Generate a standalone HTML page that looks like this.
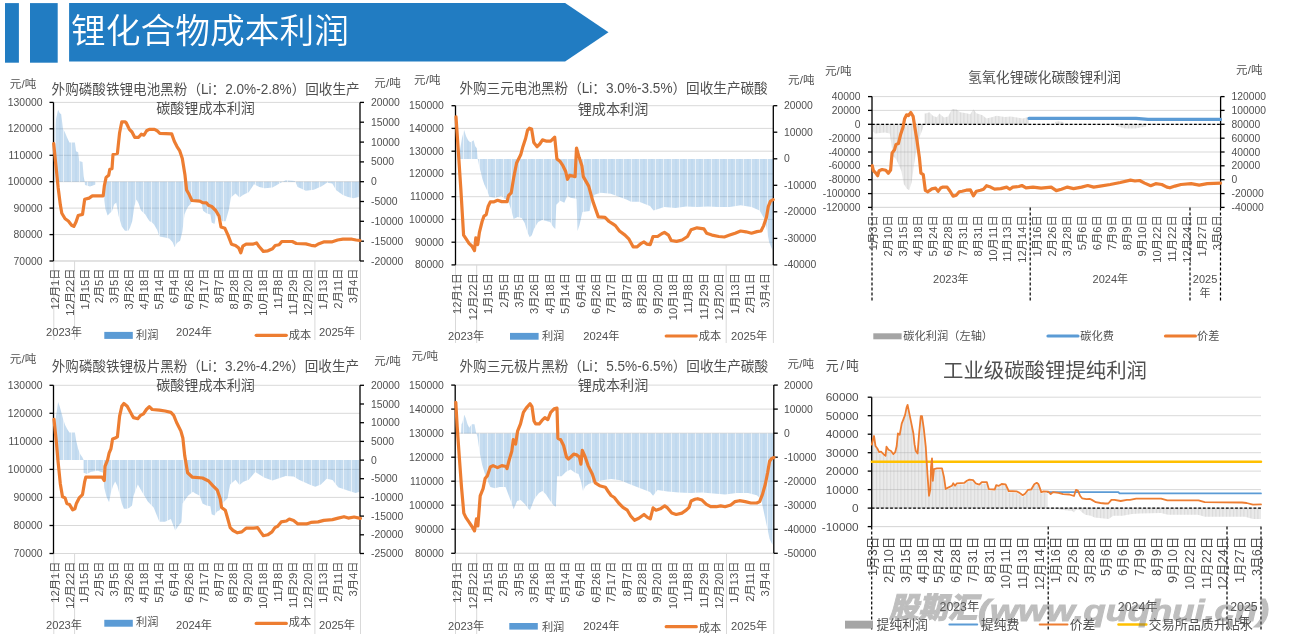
<!DOCTYPE html><html><head><meta charset="utf-8"><title>锂化合物成本利润</title>
<style>html,body{margin:0;padding:0;background:#fff;}body{width:1289px;height:643px;overflow:hidden;}svg{display:block;font-family:"Liberation Sans","Noto Sans CJK SC",sans-serif;}</style>
</head><body>
<svg width="1289" height="643" viewBox="0 0 1289 643">
<defs>
<pattern id="bluebars" patternUnits="userSpaceOnUse" width="8" height="10"><rect width="8" height="10" fill="#5B9BD5" fill-opacity="0.34"/><rect x="3" width="2" height="10" fill="#5B9BD5" fill-opacity="0.06"/><rect x="7" width="1" height="10" fill="#FFFFFF" fill-opacity="0.6"/></pattern>
<pattern id="graybars" patternUnits="userSpaceOnUse" width="3.5" height="10"><rect width="3.5" height="10" fill="#A5A5A5" fill-opacity="0.24"/><rect x="1" width="1" height="10" fill="#A5A5A5" fill-opacity="0.3"/></pattern>
</defs>
<rect x="5" y="3.1" width="13.9" height="59.6" fill="#217CC2"/>
<rect x="30" y="3.1" width="27.7" height="59.6" fill="#217CC2"/>
<polygon points="69.1,3.1 565.1,3.1 608.5,32.2 565.1,61.4 69.1,61.4" fill="#217CC2"/>
<text x="71" y="31" font-size="34.5" text-anchor="start" fill="#FFFFFF" dominant-baseline="central" textLength="278" lengthAdjust="spacingAndGlyphs" font-weight="350">锂化合物成本利润</text>
<line x1="53.5" y1="102.4" x2="360" y2="102.4" stroke="#D9D9D9" stroke-width="1"/>
<line x1="53.5" y1="128.8" x2="360" y2="128.8" stroke="#D9D9D9" stroke-width="1"/>
<line x1="53.5" y1="155.3" x2="360" y2="155.3" stroke="#D9D9D9" stroke-width="1"/>
<line x1="53.5" y1="181.7" x2="360" y2="181.7" stroke="#D9D9D9" stroke-width="1"/>
<line x1="53.5" y1="208.1" x2="360" y2="208.1" stroke="#D9D9D9" stroke-width="1"/>
<line x1="53.5" y1="234.6" x2="360" y2="234.6" stroke="#D9D9D9" stroke-width="1"/>
<line x1="53.5" y1="261" x2="360" y2="261" stroke="#D9D9D9" stroke-width="1"/>
<polygon points="54.5,181.7 54.5,181.7 54.5,130 55.9,119.6 58.1,109.8 59.6,113.1 61.2,114.2 62.9,128.3 65.1,132.7 67.3,138.1 69.4,142.5 74.9,142.5 76,151.2 78.2,152.3 79.2,161 82.5,162.1 83.6,176.3 84.7,181.7 85,185 90,186.5 95.6,184.5 96,181.7 104.2,181.7 104.3,200 105.4,209 107.6,215.5 109.8,213.3 112,211.2 114.1,204.6 116.3,202.5 118.5,215.5 121.8,226.4 125,230.8 128.3,230.8 130,227.7 132.2,221.2 134.4,205.9 136.5,199.4 138.7,203.7 140.9,210.3 143.1,212.5 145.3,214.6 147.4,217.9 149.6,221.2 151.8,222.3 154,224.4 157.2,229.9 159.4,236.4 164.9,237.5 169.2,238.6 172.5,241.9 174.7,247.3 176.9,243 180.1,240.8 182.3,232.1 184.5,214.6 186,210.7 188,206.7 190.6,204 193.2,200.1 201.1,201.4 203.1,210.7 206.4,213.3 210.4,214.6 211.7,222.6 214.4,223.9 217,214.6 219.6,217.3 222.3,221.3 225.6,221.3 228.9,209.4 230.9,197.5 235.5,193.5 239.5,197.5 243.4,194.8 248.7,192.2 254,184.3 259.3,186.9 264.6,188.2 272.5,187.6 280.4,182.9 285.7,180.3 295,181 297.6,186.9 300.5,188.2 305.8,190.8 313.8,189.7 321.7,186.3 327,182.8 332.3,183.6 336.2,190.2 342.9,195 348.1,196.9 353.4,198.2 358.7,196.9 359.5,181.7 359.5,181.7" fill="url(#bluebars)"/>
<line x1="53.5" y1="261" x2="360" y2="261" stroke="#D9D9D9" stroke-width="1"/>
<line x1="53.8" y1="261" x2="53.8" y2="340" stroke="#D9D9D9" stroke-width="1"/>
<line x1="74.6" y1="261" x2="74.6" y2="340" stroke="#D9D9D9" stroke-width="1"/>
<line x1="314.9" y1="261" x2="314.9" y2="340" stroke="#D9D9D9" stroke-width="1"/>
<line x1="360.5" y1="261" x2="360.5" y2="340" stroke="#D9D9D9" stroke-width="1"/>
<line x1="53.5" y1="102.4" x2="53.5" y2="261" stroke="#000" stroke-width="1.3"/>
<line x1="49.5" y1="102.4" x2="53.5" y2="102.4" stroke="#000" stroke-width="1.3"/>
<line x1="49.5" y1="128.8" x2="53.5" y2="128.8" stroke="#000" stroke-width="1.3"/>
<line x1="49.5" y1="155.3" x2="53.5" y2="155.3" stroke="#000" stroke-width="1.3"/>
<line x1="49.5" y1="181.7" x2="53.5" y2="181.7" stroke="#000" stroke-width="1.3"/>
<line x1="49.5" y1="208.1" x2="53.5" y2="208.1" stroke="#000" stroke-width="1.3"/>
<line x1="49.5" y1="234.6" x2="53.5" y2="234.6" stroke="#000" stroke-width="1.3"/>
<line x1="49.5" y1="261" x2="53.5" y2="261" stroke="#000" stroke-width="1.3"/>
<line x1="360" y1="102.4" x2="360" y2="261" stroke="#000" stroke-width="1.3"/>
<line x1="360" y1="102.4" x2="364" y2="102.4" stroke="#000" stroke-width="1.3"/>
<line x1="360" y1="122.2" x2="364" y2="122.2" stroke="#000" stroke-width="1.3"/>
<line x1="360" y1="142.1" x2="364" y2="142.1" stroke="#000" stroke-width="1.3"/>
<line x1="360" y1="161.9" x2="364" y2="161.9" stroke="#000" stroke-width="1.3"/>
<line x1="360" y1="181.7" x2="364" y2="181.7" stroke="#000" stroke-width="1.3"/>
<line x1="360" y1="201.5" x2="364" y2="201.5" stroke="#000" stroke-width="1.3"/>
<line x1="360" y1="221.3" x2="364" y2="221.3" stroke="#000" stroke-width="1.3"/>
<line x1="360" y1="241.2" x2="364" y2="241.2" stroke="#000" stroke-width="1.3"/>
<line x1="360" y1="261" x2="364" y2="261" stroke="#000" stroke-width="1.3"/>
<polyline points="53.7,143.6 55.9,165.4 58.1,187.2 60.3,204.6 61.8,213.3 65.1,218.8 68.3,221 71.6,225.3 73.8,226.4 76,222.1 78.2,215.5 82.5,214.4 84.7,199.2 89.1,198.1 92.3,195.9 103.2,195.9 104.3,186.1 106.1,177.4 108.7,175.2 109.8,169.3 112,168.7 113,154.5 117.4,153.4 119.6,132.7 121.8,121.8 125,121.8 126.2,122.8 129.4,129.4 132,132 134.7,137.3 138.6,137.3 141.3,134.2 143.9,135.2 146.6,130.7 149.2,129.4 154.5,129.4 157.1,130.7 159.8,133.4 171.7,133.9 174.3,141.3 177,146.6 179.6,150.6 182.3,158.5 184.9,174.4 186.6,190 189.3,194.8 191.9,200.5 199.8,201.2 202.5,202.6 206.4,202.8 208.4,205.2 211.7,206.5 215.7,210.5 219,216 221,227 224.9,228.3 228.2,235.6 231.5,244.2 235.5,245.5 238.8,248.1 240.8,252.8 242.8,246.2 246.1,244.2 252.7,244.2 256.6,242.9 259.3,246.8 263.3,251.4 267.9,250.8 272.5,248.8 275.2,245.5 279.1,244.8 281.8,241.5 292.3,241.5 296.3,243.5 305.8,243.9 311.1,245.3 315.1,245.8 319,243.7 324.3,241.8 332.3,241.8 337.6,240 342.9,239.2 352.1,239.2 356.1,240 360,240.5" fill="none" stroke="#ED7D31" stroke-width="3.2" stroke-linejoin="round" stroke-linecap="round"/>
<text x="42.5" y="102.4" font-size="10.4" text-anchor="end" fill="#505050" dominant-baseline="central">130000</text>
<text x="42.5" y="128.8" font-size="10.4" text-anchor="end" fill="#505050" dominant-baseline="central">120000</text>
<text x="42.5" y="155.3" font-size="10.4" text-anchor="end" fill="#505050" dominant-baseline="central">110000</text>
<text x="42.5" y="181.7" font-size="10.4" text-anchor="end" fill="#505050" dominant-baseline="central">100000</text>
<text x="42.5" y="208.1" font-size="10.4" text-anchor="end" fill="#505050" dominant-baseline="central">90000</text>
<text x="42.5" y="234.6" font-size="10.4" text-anchor="end" fill="#505050" dominant-baseline="central">80000</text>
<text x="42.5" y="261" font-size="10.4" text-anchor="end" fill="#505050" dominant-baseline="central">70000</text>
<text x="371" y="102.4" font-size="10.4" text-anchor="start" fill="#505050" dominant-baseline="central">20000</text>
<text x="371" y="122.2" font-size="10.4" text-anchor="start" fill="#505050" dominant-baseline="central">15000</text>
<text x="371" y="142.1" font-size="10.4" text-anchor="start" fill="#505050" dominant-baseline="central">10000</text>
<text x="371" y="161.9" font-size="10.4" text-anchor="start" fill="#505050" dominant-baseline="central">5000</text>
<text x="371" y="181.7" font-size="10.4" text-anchor="start" fill="#505050" dominant-baseline="central">0</text>
<text x="371" y="201.5" font-size="10.4" text-anchor="start" fill="#505050" dominant-baseline="central">-5000</text>
<text x="371" y="221.3" font-size="10.4" text-anchor="start" fill="#505050" dominant-baseline="central">-10000</text>
<text x="371" y="241.2" font-size="10.4" text-anchor="start" fill="#505050" dominant-baseline="central">-15000</text>
<text x="371" y="261" font-size="10.4" text-anchor="start" fill="#505050" dominant-baseline="central">-20000</text>
<text x="54.7" y="268.5" font-size="11.2" text-anchor="end" fill="#505050" dominant-baseline="central" transform="rotate(-90 54.7 268.5)">12月1日</text>
<text x="69.6" y="268.5" font-size="11.2" text-anchor="end" fill="#505050" dominant-baseline="central" transform="rotate(-90 69.6 268.5)">12月22日</text>
<text x="84.5" y="268.5" font-size="11.2" text-anchor="end" fill="#505050" dominant-baseline="central" transform="rotate(-90 84.5 268.5)">1月15日</text>
<text x="99.4" y="268.5" font-size="11.2" text-anchor="end" fill="#505050" dominant-baseline="central" transform="rotate(-90 99.4 268.5)">2月5日</text>
<text x="114.3" y="268.5" font-size="11.2" text-anchor="end" fill="#505050" dominant-baseline="central" transform="rotate(-90 114.3 268.5)">3月5日</text>
<text x="129.2" y="268.5" font-size="11.2" text-anchor="end" fill="#505050" dominant-baseline="central" transform="rotate(-90 129.2 268.5)">3月26日</text>
<text x="144.1" y="268.5" font-size="11.2" text-anchor="end" fill="#505050" dominant-baseline="central" transform="rotate(-90 144.1 268.5)">4月18日</text>
<text x="159" y="268.5" font-size="11.2" text-anchor="end" fill="#505050" dominant-baseline="central" transform="rotate(-90 159 268.5)">5月14日</text>
<text x="173.9" y="268.5" font-size="11.2" text-anchor="end" fill="#505050" dominant-baseline="central" transform="rotate(-90 173.9 268.5)">6月4日</text>
<text x="188.8" y="268.5" font-size="11.2" text-anchor="end" fill="#505050" dominant-baseline="central" transform="rotate(-90 188.8 268.5)">6月26日</text>
<text x="203.7" y="268.5" font-size="11.2" text-anchor="end" fill="#505050" dominant-baseline="central" transform="rotate(-90 203.7 268.5)">7月17日</text>
<text x="218.6" y="268.5" font-size="11.2" text-anchor="end" fill="#505050" dominant-baseline="central" transform="rotate(-90 218.6 268.5)">8月7日</text>
<text x="233.5" y="268.5" font-size="11.2" text-anchor="end" fill="#505050" dominant-baseline="central" transform="rotate(-90 233.5 268.5)">8月28日</text>
<text x="248.4" y="268.5" font-size="11.2" text-anchor="end" fill="#505050" dominant-baseline="central" transform="rotate(-90 248.4 268.5)">9月20日</text>
<text x="263.3" y="268.5" font-size="11.2" text-anchor="end" fill="#505050" dominant-baseline="central" transform="rotate(-90 263.3 268.5)">10月18日</text>
<text x="278.2" y="268.5" font-size="11.2" text-anchor="end" fill="#505050" dominant-baseline="central" transform="rotate(-90 278.2 268.5)">11月8日</text>
<text x="293.1" y="268.5" font-size="11.2" text-anchor="end" fill="#505050" dominant-baseline="central" transform="rotate(-90 293.1 268.5)">11月29日</text>
<text x="308" y="268.5" font-size="11.2" text-anchor="end" fill="#505050" dominant-baseline="central" transform="rotate(-90 308 268.5)">12月20日</text>
<text x="322.9" y="268.5" font-size="11.2" text-anchor="end" fill="#505050" dominant-baseline="central" transform="rotate(-90 322.9 268.5)">1月13日</text>
<text x="337.8" y="268.5" font-size="11.2" text-anchor="end" fill="#505050" dominant-baseline="central" transform="rotate(-90 337.8 268.5)">2月11日</text>
<text x="352.7" y="268.5" font-size="11.2" text-anchor="end" fill="#505050" dominant-baseline="central" transform="rotate(-90 352.7 268.5)">3月4日</text>
<text x="51.6" y="89.1" font-size="14.1" text-anchor="start" fill="#505050" dominant-baseline="central" textLength="308" lengthAdjust="spacingAndGlyphs">外购磷酸铁锂电池黑粉（Li：2.0%-2.8%）回收生产</text>
<text x="205.5" y="108.2" font-size="14.1" text-anchor="middle" fill="#505050" dominant-baseline="central">碳酸锂成本利润</text>
<text x="9.8" y="83.7" font-size="11.5" text-anchor="start" fill="#505050" dominant-baseline="central" textLength="26.5" lengthAdjust="spacing">元/吨</text>
<text x="374.3" y="83.3" font-size="11.5" text-anchor="start" fill="#505050" dominant-baseline="central" textLength="26.5" lengthAdjust="spacing">元/吨</text>
<text x="64" y="332.4" font-size="11.2" text-anchor="middle" fill="#505050" dominant-baseline="central">2023年</text>
<text x="194" y="332.4" font-size="11.2" text-anchor="middle" fill="#505050" dominant-baseline="central">2024年</text>
<text x="337" y="332.4" font-size="11.2" text-anchor="middle" fill="#505050" dominant-baseline="central">2025年</text>
<text x="136" y="334.8" font-size="11.2" text-anchor="start" fill="#505050" dominant-baseline="central">利润</text>
<text x="288.8" y="335" font-size="11.2" text-anchor="start" fill="#505050" dominant-baseline="central">成本</text>
<rect x="104.3" y="331.9" width="28.5" height="7" fill="#5B9BD5"/>
<line x1="256.2" y1="335.3" x2="286.3" y2="335.3" stroke="#ED7D31" stroke-width="3.2" stroke-linecap="round"/>
<line x1="455.5" y1="105.7" x2="773.3" y2="105.7" stroke="#D9D9D9" stroke-width="1"/>
<line x1="455.5" y1="128.4" x2="773.3" y2="128.4" stroke="#D9D9D9" stroke-width="1"/>
<line x1="455.5" y1="151.2" x2="773.3" y2="151.2" stroke="#D9D9D9" stroke-width="1"/>
<line x1="455.5" y1="173.9" x2="773.3" y2="173.9" stroke="#D9D9D9" stroke-width="1"/>
<line x1="455.5" y1="196.7" x2="773.3" y2="196.7" stroke="#D9D9D9" stroke-width="1"/>
<line x1="455.5" y1="219.4" x2="773.3" y2="219.4" stroke="#D9D9D9" stroke-width="1"/>
<line x1="455.5" y1="242.2" x2="773.3" y2="242.2" stroke="#D9D9D9" stroke-width="1"/>
<line x1="455.5" y1="264.9" x2="773.3" y2="264.9" stroke="#D9D9D9" stroke-width="1"/>
<polygon points="459.5,158.9 459.5,158.9 460,150.3 462,138 464.1,130.1 466.1,136.2 468.1,140.2 470.2,142.2 472.2,141.2 473.6,140.2 475.2,146.3 476.8,148.3 477.6,158.9 478.2,160.4 479.2,166.5 480.9,172.5 482.3,178.6 484.3,184.6 487.3,190.7 489.3,196.8 495.4,197.8 501.5,195.8 504.5,198.8 507.5,199.8 509.5,204.8 511.6,210.9 513.6,219 517.6,217 521.7,218 524.7,223 527.7,233.1 529.7,237.2 531.8,235.2 534,229.1 538.1,222 542.1,220 546.2,221 550.2,222 553.2,227.1 555.3,229.1 556.3,204.8 560.3,200.8 564.3,202.8 567.4,195.8 570.4,197.8 576.5,198.8 577.5,231.1 579.5,225.1 582.5,211.9 589.6,210.9 591.6,200.8 594.6,194.7 600.7,192.7 610.8,193.7 618.9,196.8 627,199.8 631,201.8 639.1,201.8 650,205.9 653.5,210.6 664.4,207.1 675.3,207.9 686.2,206.5 697,207.1 707.9,206.5 718.8,207.1 729.7,207.1 740.6,205.2 751.5,207.1 759.6,210.6 765.1,220.1 769.1,241.9 772.4,250 773,158.9 773,158.9" fill="url(#bluebars)"/>
<line x1="455.5" y1="264.9" x2="773.3" y2="264.9" stroke="#D9D9D9" stroke-width="1"/>
<line x1="455.5" y1="264.9" x2="455.5" y2="343" stroke="#D9D9D9" stroke-width="1"/>
<line x1="476.7" y1="264.9" x2="476.7" y2="343" stroke="#D9D9D9" stroke-width="1"/>
<line x1="726.2" y1="264.9" x2="726.2" y2="343" stroke="#D9D9D9" stroke-width="1"/>
<line x1="773.4" y1="264.9" x2="773.4" y2="343" stroke="#D9D9D9" stroke-width="1"/>
<line x1="455.5" y1="105.7" x2="455.5" y2="264.9" stroke="#000" stroke-width="1.3"/>
<line x1="451.5" y1="105.7" x2="455.5" y2="105.7" stroke="#000" stroke-width="1.3"/>
<line x1="451.5" y1="128.4" x2="455.5" y2="128.4" stroke="#000" stroke-width="1.3"/>
<line x1="451.5" y1="151.2" x2="455.5" y2="151.2" stroke="#000" stroke-width="1.3"/>
<line x1="451.5" y1="173.9" x2="455.5" y2="173.9" stroke="#000" stroke-width="1.3"/>
<line x1="451.5" y1="196.7" x2="455.5" y2="196.7" stroke="#000" stroke-width="1.3"/>
<line x1="451.5" y1="219.4" x2="455.5" y2="219.4" stroke="#000" stroke-width="1.3"/>
<line x1="451.5" y1="242.2" x2="455.5" y2="242.2" stroke="#000" stroke-width="1.3"/>
<line x1="451.5" y1="264.9" x2="455.5" y2="264.9" stroke="#000" stroke-width="1.3"/>
<line x1="773.3" y1="105.7" x2="773.3" y2="264.9" stroke="#000" stroke-width="1.3"/>
<line x1="773.3" y1="105.7" x2="777.3" y2="105.7" stroke="#000" stroke-width="1.3"/>
<line x1="773.3" y1="132.2" x2="777.3" y2="132.2" stroke="#000" stroke-width="1.3"/>
<line x1="773.3" y1="158.8" x2="777.3" y2="158.8" stroke="#000" stroke-width="1.3"/>
<line x1="773.3" y1="185.3" x2="777.3" y2="185.3" stroke="#000" stroke-width="1.3"/>
<line x1="773.3" y1="211.8" x2="777.3" y2="211.8" stroke="#000" stroke-width="1.3"/>
<line x1="773.3" y1="238.4" x2="777.3" y2="238.4" stroke="#000" stroke-width="1.3"/>
<line x1="773.3" y1="264.9" x2="777.3" y2="264.9" stroke="#000" stroke-width="1.3"/>
<polyline points="456,116.8 458.2,149.4 460.9,190.2 463.6,235.1 466.3,239.2 469,243.3 471.8,246 474.5,250.6 475.8,237.8 477.7,244.6 479.4,232.4 482.1,221.5 484,216.1 486.2,214.7 488.1,206.5 490.3,201.9 493.5,201.9 497.6,200.3 501.7,201.6 507.1,201.6 508.5,195.7 511.2,192.9 513.9,176.6 516.6,163 520.7,154.8 522.9,146.7 525.6,138.5 527.5,130.4 529.4,128.2 531.6,129 533.8,142.6 537.1,146.7 539.8,144 542.5,139.9 546.6,141.2 550.7,141.2 554.7,137.2 556.9,158.9 560.2,161.6 562.9,165.7 565.6,171.2 567.5,179.3 569.7,175.3 575.1,176.6 576.5,148 579.2,157.6 581.9,165.7 583.3,176.6 588.7,186.1 592.8,201.1 598.3,216.9 605,217.4 609.1,221.5 613.2,224.2 615.4,225.6 619.5,231 625,235.1 629,239.2 633.1,246.8 637.2,246.8 641.3,243.3 644,241.9 646.7,244.1 650.3,244.6 653,236.5 657.6,236.5 661.7,233.7 664.4,232.4 668.5,235.1 671.2,240.5 676.6,241.4 682.1,240 687.5,236.5 691.1,229.7 697,227.8 703.9,228.8 706.6,233.2 712,235.1 718.8,236.5 724.3,237 729.7,235.1 735.1,233.2 740.6,231 746,231.8 751.5,233.2 756.9,231.6 761,231 763.7,225.6 766.4,217.4 768.3,206.5 770.5,201.1 773.2,199.7" fill="none" stroke="#ED7D31" stroke-width="3.2" stroke-linejoin="round" stroke-linecap="round"/>
<text x="443.8" y="105.7" font-size="10.4" text-anchor="end" fill="#505050" dominant-baseline="central">150000</text>
<text x="443.8" y="128.4" font-size="10.4" text-anchor="end" fill="#505050" dominant-baseline="central">140000</text>
<text x="443.8" y="151.2" font-size="10.4" text-anchor="end" fill="#505050" dominant-baseline="central">130000</text>
<text x="443.8" y="173.9" font-size="10.4" text-anchor="end" fill="#505050" dominant-baseline="central">120000</text>
<text x="443.8" y="196.7" font-size="10.4" text-anchor="end" fill="#505050" dominant-baseline="central">110000</text>
<text x="443.8" y="219.4" font-size="10.4" text-anchor="end" fill="#505050" dominant-baseline="central">100000</text>
<text x="443.8" y="242.2" font-size="10.4" text-anchor="end" fill="#505050" dominant-baseline="central">90000</text>
<text x="443.8" y="264.9" font-size="10.4" text-anchor="end" fill="#505050" dominant-baseline="central">80000</text>
<text x="784" y="105.7" font-size="10.4" text-anchor="start" fill="#505050" dominant-baseline="central">20000</text>
<text x="784" y="132.2" font-size="10.4" text-anchor="start" fill="#505050" dominant-baseline="central">10000</text>
<text x="784" y="158.8" font-size="10.4" text-anchor="start" fill="#505050" dominant-baseline="central">0</text>
<text x="784" y="185.3" font-size="10.4" text-anchor="start" fill="#505050" dominant-baseline="central">-10000</text>
<text x="784" y="211.8" font-size="10.4" text-anchor="start" fill="#505050" dominant-baseline="central">-20000</text>
<text x="784" y="238.4" font-size="10.4" text-anchor="start" fill="#505050" dominant-baseline="central">-30000</text>
<text x="784" y="264.9" font-size="10.4" text-anchor="start" fill="#505050" dominant-baseline="central">-40000</text>
<text x="457.3" y="273" font-size="11.2" text-anchor="end" fill="#505050" dominant-baseline="central" transform="rotate(-90 457.3 273)">12月1日</text>
<text x="472.7" y="273" font-size="11.2" text-anchor="end" fill="#505050" dominant-baseline="central" transform="rotate(-90 472.7 273)">12月22日</text>
<text x="488.1" y="273" font-size="11.2" text-anchor="end" fill="#505050" dominant-baseline="central" transform="rotate(-90 488.1 273)">1月15日</text>
<text x="503.5" y="273" font-size="11.2" text-anchor="end" fill="#505050" dominant-baseline="central" transform="rotate(-90 503.5 273)">2月5日</text>
<text x="518.9" y="273" font-size="11.2" text-anchor="end" fill="#505050" dominant-baseline="central" transform="rotate(-90 518.9 273)">3月5日</text>
<text x="534.3" y="273" font-size="11.2" text-anchor="end" fill="#505050" dominant-baseline="central" transform="rotate(-90 534.3 273)">3月26日</text>
<text x="549.7" y="273" font-size="11.2" text-anchor="end" fill="#505050" dominant-baseline="central" transform="rotate(-90 549.7 273)">4月18日</text>
<text x="565.1" y="273" font-size="11.2" text-anchor="end" fill="#505050" dominant-baseline="central" transform="rotate(-90 565.1 273)">5月14日</text>
<text x="580.5" y="273" font-size="11.2" text-anchor="end" fill="#505050" dominant-baseline="central" transform="rotate(-90 580.5 273)">6月4日</text>
<text x="595.9" y="273" font-size="11.2" text-anchor="end" fill="#505050" dominant-baseline="central" transform="rotate(-90 595.9 273)">6月26日</text>
<text x="611.3" y="273" font-size="11.2" text-anchor="end" fill="#505050" dominant-baseline="central" transform="rotate(-90 611.3 273)">7月17日</text>
<text x="626.7" y="273" font-size="11.2" text-anchor="end" fill="#505050" dominant-baseline="central" transform="rotate(-90 626.7 273)">8月7日</text>
<text x="642.1" y="273" font-size="11.2" text-anchor="end" fill="#505050" dominant-baseline="central" transform="rotate(-90 642.1 273)">8月28日</text>
<text x="657.5" y="273" font-size="11.2" text-anchor="end" fill="#505050" dominant-baseline="central" transform="rotate(-90 657.5 273)">9月20日</text>
<text x="672.9" y="273" font-size="11.2" text-anchor="end" fill="#505050" dominant-baseline="central" transform="rotate(-90 672.9 273)">10月18日</text>
<text x="688.3" y="273" font-size="11.2" text-anchor="end" fill="#505050" dominant-baseline="central" transform="rotate(-90 688.3 273)">11月8日</text>
<text x="703.7" y="273" font-size="11.2" text-anchor="end" fill="#505050" dominant-baseline="central" transform="rotate(-90 703.7 273)">11月29日</text>
<text x="719.1" y="273" font-size="11.2" text-anchor="end" fill="#505050" dominant-baseline="central" transform="rotate(-90 719.1 273)">12月20日</text>
<text x="734.5" y="273" font-size="11.2" text-anchor="end" fill="#505050" dominant-baseline="central" transform="rotate(-90 734.5 273)">1月13日</text>
<text x="749.9" y="273" font-size="11.2" text-anchor="end" fill="#505050" dominant-baseline="central" transform="rotate(-90 749.9 273)">2月11日</text>
<text x="765.3" y="273" font-size="11.2" text-anchor="end" fill="#505050" dominant-baseline="central" transform="rotate(-90 765.3 273)">3月4日</text>
<text x="459.4" y="88.1" font-size="14.1" text-anchor="start" fill="#505050" dominant-baseline="central" textLength="308.3" lengthAdjust="spacingAndGlyphs">外购三元电池黑粉（Li：3.0%-3.5%）回收生产碳酸</text>
<text x="613" y="108.7" font-size="14.1" text-anchor="middle" fill="#505050" dominant-baseline="central">锂成本利润</text>
<text x="414" y="80" font-size="11.5" text-anchor="start" fill="#505050" dominant-baseline="central" textLength="26.5" lengthAdjust="spacing">元/吨</text>
<text x="788" y="80.2" font-size="11.5" text-anchor="start" fill="#505050" dominant-baseline="central" textLength="26.5" lengthAdjust="spacing">元/吨</text>
<text x="466.1" y="336" font-size="11.2" text-anchor="middle" fill="#505050" dominant-baseline="central">2023年</text>
<text x="601.3" y="336" font-size="11.2" text-anchor="middle" fill="#505050" dominant-baseline="central">2024年</text>
<text x="749.1" y="336" font-size="11.2" text-anchor="middle" fill="#505050" dominant-baseline="central">2025年</text>
<text x="541.9" y="336" font-size="11.2" text-anchor="start" fill="#505050" dominant-baseline="central">利润</text>
<text x="698.8" y="336" font-size="11.2" text-anchor="start" fill="#505050" dominant-baseline="central">成本</text>
<rect x="510" y="332.9" width="28.6" height="6.8" fill="#5B9BD5"/>
<line x1="666.2" y1="336" x2="696.3" y2="336" stroke="#ED7D31" stroke-width="3.2" stroke-linecap="round"/>
<line x1="872" y1="96.6" x2="1220.6" y2="96.6" stroke="#D9D9D9" stroke-width="1"/>
<line x1="872" y1="110.4" x2="1220.6" y2="110.4" stroke="#D9D9D9" stroke-width="1"/>
<line x1="872" y1="124.3" x2="1220.6" y2="124.3" stroke="#D9D9D9" stroke-width="1"/>
<line x1="872" y1="138.2" x2="1220.6" y2="138.2" stroke="#D9D9D9" stroke-width="1"/>
<line x1="872" y1="152" x2="1220.6" y2="152" stroke="#D9D9D9" stroke-width="1"/>
<line x1="872" y1="165.8" x2="1220.6" y2="165.8" stroke="#D9D9D9" stroke-width="1"/>
<line x1="872" y1="179.7" x2="1220.6" y2="179.7" stroke="#D9D9D9" stroke-width="1"/>
<line x1="872" y1="193.6" x2="1220.6" y2="193.6" stroke="#D9D9D9" stroke-width="1"/>
<line x1="872" y1="207.4" x2="1220.6" y2="207.4" stroke="#D9D9D9" stroke-width="1"/>
<polygon points="873.2,124.3 873.2,131.5 875,133.4 880,133 885,132.5 889.8,133.5 891.3,143.6 892.9,156 896,159.1 897.6,162.3 899.1,165.4 901.5,171.6 903.8,184 906.9,188.7 909.2,190.3 911.6,182.5 913.9,165.4 916.2,151.4 919.4,137.4 922.5,129.6 923.7,124.9 923.7,124.3" fill="url(#graybars)"/>
<polygon points="924.5,124.3 924.5,113.5 925.7,113.5 929.4,112.3 933.1,116 936.9,117.2 939.3,113.5 944,117.4 948.1,116.4 952.1,108.9 956.2,109.3 960.2,112.3 966.3,113.3 970.3,114.3 973.4,109.3 976.4,113.3 982.5,115.3 986.5,118.4 992.6,117 996.6,115.7 1004.7,117 1010.8,116.4 1016.9,117.4 1022.9,118.4 1028,117 1029,118 1029,124.3" fill="url(#graybars)"/>
<polygon points="1055,124.3 1055,122 1058,121.2 1063,122 1064,123.5 1064,124.3" fill="url(#graybars)"/>
<polygon points="1116,124.3 1116,126 1125,128.5 1135,128.5 1146,126.5 1146,124.3" fill="url(#graybars)"/>
<line x1="872" y1="124.3" x2="1220.6" y2="124.3" stroke="#000" stroke-width="1.3" stroke-dasharray="2.8 1.8"/>
<line x1="872" y1="207.4" x2="1220.6" y2="207.4" stroke="#D9D9D9" stroke-width="1"/>
<line x1="872" y1="207.4" x2="872" y2="301.8" stroke="#000" stroke-width="1.2" stroke-dasharray="3 2"/>
<line x1="1030.2" y1="207.4" x2="1030.2" y2="301.8" stroke="#000" stroke-width="1.2" stroke-dasharray="3 2"/>
<line x1="1190" y1="207.4" x2="1190" y2="301.8" stroke="#000" stroke-width="1.2" stroke-dasharray="3 2"/>
<line x1="1220.5" y1="207.4" x2="1220.5" y2="301.8" stroke="#000" stroke-width="1.2" stroke-dasharray="3 2"/>
<line x1="872" y1="96.6" x2="872" y2="207.4" stroke="#000" stroke-width="1.3"/>
<line x1="868" y1="96.6" x2="872" y2="96.6" stroke="#000" stroke-width="1.3"/>
<line x1="868" y1="110.4" x2="872" y2="110.4" stroke="#000" stroke-width="1.3"/>
<line x1="868" y1="124.3" x2="872" y2="124.3" stroke="#000" stroke-width="1.3"/>
<line x1="868" y1="138.2" x2="872" y2="138.2" stroke="#000" stroke-width="1.3"/>
<line x1="868" y1="152" x2="872" y2="152" stroke="#000" stroke-width="1.3"/>
<line x1="868" y1="165.8" x2="872" y2="165.8" stroke="#000" stroke-width="1.3"/>
<line x1="868" y1="179.7" x2="872" y2="179.7" stroke="#000" stroke-width="1.3"/>
<line x1="868" y1="193.6" x2="872" y2="193.6" stroke="#000" stroke-width="1.3"/>
<line x1="868" y1="207.4" x2="872" y2="207.4" stroke="#000" stroke-width="1.3"/>
<line x1="1220.6" y1="96.6" x2="1220.6" y2="207.4" stroke="#000" stroke-width="1.3"/>
<line x1="1220.6" y1="96.6" x2="1224.6" y2="96.6" stroke="#000" stroke-width="1.3"/>
<line x1="1220.6" y1="110.4" x2="1224.6" y2="110.4" stroke="#000" stroke-width="1.3"/>
<line x1="1220.6" y1="124.3" x2="1224.6" y2="124.3" stroke="#000" stroke-width="1.3"/>
<line x1="1220.6" y1="138.2" x2="1224.6" y2="138.2" stroke="#000" stroke-width="1.3"/>
<line x1="1220.6" y1="152" x2="1224.6" y2="152" stroke="#000" stroke-width="1.3"/>
<line x1="1220.6" y1="165.8" x2="1224.6" y2="165.8" stroke="#000" stroke-width="1.3"/>
<line x1="1220.6" y1="179.7" x2="1224.6" y2="179.7" stroke="#000" stroke-width="1.3"/>
<line x1="1220.6" y1="193.6" x2="1224.6" y2="193.6" stroke="#000" stroke-width="1.3"/>
<line x1="1220.6" y1="207.4" x2="1224.6" y2="207.4" stroke="#000" stroke-width="1.3"/>
<polyline points="1029,118.4 1136,118.4 1148,119.4 1220.5,119.4" fill="none" stroke="#5B9BD5" stroke-width="3.2" stroke-linejoin="round" stroke-linecap="round"/>
<polyline points="872.2,165.7 873.4,170.7 875.9,173.2 877.6,175.7 879.1,170.7 882.1,169.5 885.8,170.2 888.3,173.2 890.6,170 892.1,152.9 894.5,149.8 896,144.4 898.4,143.6 900.7,134.2 903,127.2 904.6,118.7 906.6,114.8 908.5,115.6 910.8,112.5 913.1,116.3 914.7,126.5 917,140.5 919.4,157.6 920.9,173.2 923.3,174.7 925.3,190.3 927.9,191.8 929.4,190.6 931.9,188.9 935.6,188.1 938.1,191.4 940.6,188.1 943,187.1 947.1,187.1 950.1,191.2 953.1,196.2 956.2,195.2 959.2,191.8 962.2,191.2 966.3,190.2 970.3,189.8 973.4,195.8 976.4,191.2 980.5,190.2 983.5,189.2 986.5,185.7 990.6,187.1 994.6,189.2 1000.7,188.6 1006.7,187.1 1009.8,189.2 1012.8,187.1 1018.9,186.5 1021.9,185.5 1026,187.8 1033,187.1 1041.1,188.2 1051.2,187.1 1056.3,190.6 1061.4,189.2 1067.4,187.1 1073.5,188.6 1081.6,187.1 1087.7,185.5 1093.7,187.1 1100.1,186.1 1110.2,184.5 1120.3,182.5 1130.5,180.1 1135,181 1139.6,180.5 1144.6,183.1 1150.7,185.7 1155.7,183.7 1161.8,184.5 1166.9,187.1 1169.9,187.8 1175,186.1 1181,184.5 1191.1,183.7 1199.2,185.1 1207.3,183.7 1220.5,183.1" fill="none" stroke="#ED7D31" stroke-width="3.2" stroke-linejoin="round" stroke-linecap="round"/>
<text x="860.5" y="96.6" font-size="10.3" text-anchor="end" fill="#505050" dominant-baseline="central">40000</text>
<text x="860.5" y="110.4" font-size="10.3" text-anchor="end" fill="#505050" dominant-baseline="central">20000</text>
<text x="860.5" y="124.3" font-size="10.3" text-anchor="end" fill="#505050" dominant-baseline="central">0</text>
<text x="860.5" y="138.2" font-size="10.3" text-anchor="end" fill="#505050" dominant-baseline="central">-20000</text>
<text x="860.5" y="152" font-size="10.3" text-anchor="end" fill="#505050" dominant-baseline="central">-40000</text>
<text x="860.5" y="165.8" font-size="10.3" text-anchor="end" fill="#505050" dominant-baseline="central">-60000</text>
<text x="860.5" y="179.7" font-size="10.3" text-anchor="end" fill="#505050" dominant-baseline="central">-80000</text>
<text x="860.5" y="193.6" font-size="10.3" text-anchor="end" fill="#505050" dominant-baseline="central">-100000</text>
<text x="860.5" y="207.4" font-size="10.3" text-anchor="end" fill="#505050" dominant-baseline="central">-120000</text>
<text x="1231.6" y="96.6" font-size="10.3" text-anchor="start" fill="#505050" dominant-baseline="central">120000</text>
<text x="1231.6" y="110.4" font-size="10.3" text-anchor="start" fill="#505050" dominant-baseline="central">100000</text>
<text x="1231.6" y="124.3" font-size="10.3" text-anchor="start" fill="#505050" dominant-baseline="central">80000</text>
<text x="1231.6" y="138.2" font-size="10.3" text-anchor="start" fill="#505050" dominant-baseline="central">60000</text>
<text x="1231.6" y="152" font-size="10.3" text-anchor="start" fill="#505050" dominant-baseline="central">40000</text>
<text x="1231.6" y="165.8" font-size="10.3" text-anchor="start" fill="#505050" dominant-baseline="central">20000</text>
<text x="1231.6" y="179.7" font-size="10.3" text-anchor="start" fill="#505050" dominant-baseline="central">0</text>
<text x="1231.6" y="193.6" font-size="10.3" text-anchor="start" fill="#505050" dominant-baseline="central">-20000</text>
<text x="1231.6" y="207.4" font-size="10.3" text-anchor="start" fill="#505050" dominant-baseline="central">-40000</text>
<text x="872.8" y="215.4" font-size="11.2" text-anchor="end" fill="#505050" dominant-baseline="central" transform="rotate(-90 872.8 215.4)">1月3日</text>
<text x="887.8" y="215.4" font-size="11.2" text-anchor="end" fill="#505050" dominant-baseline="central" transform="rotate(-90 887.8 215.4)">2月10日</text>
<text x="902.7" y="215.4" font-size="11.2" text-anchor="end" fill="#505050" dominant-baseline="central" transform="rotate(-90 902.7 215.4)">3月15日</text>
<text x="917.7" y="215.4" font-size="11.2" text-anchor="end" fill="#505050" dominant-baseline="central" transform="rotate(-90 917.7 215.4)">4月18日</text>
<text x="932.7" y="215.4" font-size="11.2" text-anchor="end" fill="#505050" dominant-baseline="central" transform="rotate(-90 932.7 215.4)">5月24日</text>
<text x="947.6" y="215.4" font-size="11.2" text-anchor="end" fill="#505050" dominant-baseline="central" transform="rotate(-90 947.6 215.4)">6月28日</text>
<text x="962.6" y="215.4" font-size="11.2" text-anchor="end" fill="#505050" dominant-baseline="central" transform="rotate(-90 962.6 215.4)">7月31日</text>
<text x="977.6" y="215.4" font-size="11.2" text-anchor="end" fill="#505050" dominant-baseline="central" transform="rotate(-90 977.6 215.4)">8月31日</text>
<text x="992.6" y="215.4" font-size="11.2" text-anchor="end" fill="#505050" dominant-baseline="central" transform="rotate(-90 992.6 215.4)">10月11日</text>
<text x="1007.5" y="215.4" font-size="11.2" text-anchor="end" fill="#505050" dominant-baseline="central" transform="rotate(-90 1007.5 215.4)">11月13日</text>
<text x="1022.5" y="215.4" font-size="11.2" text-anchor="end" fill="#505050" dominant-baseline="central" transform="rotate(-90 1022.5 215.4)">12月14日</text>
<text x="1037.5" y="215.4" font-size="11.2" text-anchor="end" fill="#505050" dominant-baseline="central" transform="rotate(-90 1037.5 215.4)">1月16日</text>
<text x="1052.4" y="215.4" font-size="11.2" text-anchor="end" fill="#505050" dominant-baseline="central" transform="rotate(-90 1052.4 215.4)">2月26日</text>
<text x="1067.4" y="215.4" font-size="11.2" text-anchor="end" fill="#505050" dominant-baseline="central" transform="rotate(-90 1067.4 215.4)">3月28日</text>
<text x="1082.4" y="215.4" font-size="11.2" text-anchor="end" fill="#505050" dominant-baseline="central" transform="rotate(-90 1082.4 215.4)">5月6日</text>
<text x="1097.3" y="215.4" font-size="11.2" text-anchor="end" fill="#505050" dominant-baseline="central" transform="rotate(-90 1097.3 215.4)">6月6日</text>
<text x="1112.3" y="215.4" font-size="11.2" text-anchor="end" fill="#505050" dominant-baseline="central" transform="rotate(-90 1112.3 215.4)">7月9日</text>
<text x="1127.3" y="215.4" font-size="11.2" text-anchor="end" fill="#505050" dominant-baseline="central" transform="rotate(-90 1127.3 215.4)">8月9日</text>
<text x="1142.3" y="215.4" font-size="11.2" text-anchor="end" fill="#505050" dominant-baseline="central" transform="rotate(-90 1142.3 215.4)">9月10日</text>
<text x="1157.2" y="215.4" font-size="11.2" text-anchor="end" fill="#505050" dominant-baseline="central" transform="rotate(-90 1157.2 215.4)">10月22日</text>
<text x="1172.2" y="215.4" font-size="11.2" text-anchor="end" fill="#505050" dominant-baseline="central" transform="rotate(-90 1172.2 215.4)">11月22日</text>
<text x="1187.2" y="215.4" font-size="11.2" text-anchor="end" fill="#505050" dominant-baseline="central" transform="rotate(-90 1187.2 215.4)">12月24日</text>
<text x="1202.1" y="215.4" font-size="11.2" text-anchor="end" fill="#505050" dominant-baseline="central" transform="rotate(-90 1202.1 215.4)">1月27日</text>
<text x="1217.1" y="215.4" font-size="11.2" text-anchor="end" fill="#505050" dominant-baseline="central" transform="rotate(-90 1217.1 215.4)">3月6日</text>
<text x="1044.5" y="76.8" font-size="13.9" text-anchor="middle" fill="#505050" dominant-baseline="central" textLength="153" lengthAdjust="spacingAndGlyphs">氢氧化锂碳化碳酸锂利润</text>
<text x="824.9" y="70.5" font-size="11.5" text-anchor="start" fill="#505050" dominant-baseline="central" textLength="26.5" lengthAdjust="spacing">元/吨</text>
<text x="1236" y="69.8" font-size="11.5" text-anchor="start" fill="#505050" dominant-baseline="central" textLength="26.5" lengthAdjust="spacing">元/吨</text>
<text x="950.8" y="278.7" font-size="11" text-anchor="middle" fill="#505050" dominant-baseline="central">2023年</text>
<text x="1110.3" y="278.7" font-size="11" text-anchor="middle" fill="#505050" dominant-baseline="central">2024年</text>
<text x="1205.1" y="278.7" font-size="11" text-anchor="middle" fill="#505050" dominant-baseline="central">2025</text>
<text x="1205.1" y="293.2" font-size="11" text-anchor="middle" fill="#505050" dominant-baseline="central">年</text>
<text x="903.3" y="335.6" font-size="11.2" text-anchor="start" fill="#505050" dominant-baseline="central" textLength="89.8" lengthAdjust="spacingAndGlyphs">碳化利润（左轴）</text>
<text x="1080.3" y="335.6" font-size="11.2" text-anchor="start" fill="#505050" dominant-baseline="central">碳化费</text>
<text x="1197" y="335.6" font-size="11.2" text-anchor="start" fill="#505050" dominant-baseline="central">价差</text>
<rect x="873.3" y="333.3" width="28.3" height="6" fill="#A5A5A5"/>
<line x1="1048" y1="336" x2="1078" y2="336" stroke="#5B9BD5" stroke-width="3.2" stroke-linecap="round"/>
<line x1="1165.5" y1="336" x2="1195.4" y2="336" stroke="#ED7D31" stroke-width="3.2" stroke-linecap="round"/>
<line x1="53.5" y1="385.3" x2="360" y2="385.3" stroke="#D9D9D9" stroke-width="1"/>
<line x1="53.5" y1="413.3" x2="360" y2="413.3" stroke="#D9D9D9" stroke-width="1"/>
<line x1="53.5" y1="441.4" x2="360" y2="441.4" stroke="#D9D9D9" stroke-width="1"/>
<line x1="53.5" y1="469.4" x2="360" y2="469.4" stroke="#D9D9D9" stroke-width="1"/>
<line x1="53.5" y1="497.4" x2="360" y2="497.4" stroke="#D9D9D9" stroke-width="1"/>
<line x1="53.5" y1="525.5" x2="360" y2="525.5" stroke="#D9D9D9" stroke-width="1"/>
<line x1="53.5" y1="553.5" x2="360" y2="553.5" stroke="#D9D9D9" stroke-width="1"/>
<polygon points="55.5,459.9 55.5,418 56.4,414 58.1,402 59.6,406.3 61.2,411.8 62.9,418.3 65.1,424.9 67.3,429.2 69.4,432.5 74.9,432.5 76,440.1 78.2,448.9 80.3,454.3 82.5,457.6 83.6,459.9 83.6,472.8 86.9,473.9 91.2,471.7 97.8,470.7 103.2,472.8 104.3,488.1 106.5,496.8 109.1,502.3 110.9,492.5 113,485.9 115.2,481.6 117.4,485.9 119.6,494.6 121.8,503.4 123.9,508.8 127.2,508.8 129.4,507.7 132,505.5 133.5,495.9 137.8,484.4 142.1,492 147.8,501.6 153.6,507.4 159.4,521.8 165.1,521.8 170.9,518.9 175.2,530.4 179.5,524.6 181.5,522 182.6,503.6 185.3,499.6 188,495.7 193,491.7 194.5,493 199.8,495.7 202.5,503.6 206.4,505.6 210.4,506.3 211.7,514.2 214.4,515.5 217,511.5 219.6,510.2 222.3,503.6 227.6,498.3 228.9,490.4 230.2,484.4 235.5,479.8 239.5,485.1 243.4,481.8 248.7,479.8 255.3,471.9 259.3,474.5 264.6,477.8 272.5,480.5 285.7,475.9 293.6,476.5 298.9,479.8 309.4,484.4 315.2,486.7 320.9,484.4 326.7,478.7 332.5,480.1 338.2,487.3 346.9,490.2 355.5,493.1 359.8,491.7 359.8,459.9" fill="url(#bluebars)"/>
<line x1="53.5" y1="553.5" x2="360" y2="553.5" stroke="#D9D9D9" stroke-width="1"/>
<line x1="53.8" y1="553.5" x2="53.8" y2="634" stroke="#D9D9D9" stroke-width="1"/>
<line x1="74.6" y1="553.5" x2="74.6" y2="634" stroke="#D9D9D9" stroke-width="1"/>
<line x1="314.9" y1="553.5" x2="314.9" y2="634" stroke="#D9D9D9" stroke-width="1"/>
<line x1="360.5" y1="553.5" x2="360.5" y2="634" stroke="#D9D9D9" stroke-width="1"/>
<line x1="53.5" y1="385.3" x2="53.5" y2="553.5" stroke="#000" stroke-width="1.3"/>
<line x1="49.5" y1="385.3" x2="53.5" y2="385.3" stroke="#000" stroke-width="1.3"/>
<line x1="49.5" y1="413.3" x2="53.5" y2="413.3" stroke="#000" stroke-width="1.3"/>
<line x1="49.5" y1="441.4" x2="53.5" y2="441.4" stroke="#000" stroke-width="1.3"/>
<line x1="49.5" y1="469.4" x2="53.5" y2="469.4" stroke="#000" stroke-width="1.3"/>
<line x1="49.5" y1="497.4" x2="53.5" y2="497.4" stroke="#000" stroke-width="1.3"/>
<line x1="49.5" y1="525.5" x2="53.5" y2="525.5" stroke="#000" stroke-width="1.3"/>
<line x1="49.5" y1="553.5" x2="53.5" y2="553.5" stroke="#000" stroke-width="1.3"/>
<line x1="360" y1="385.3" x2="360" y2="553.5" stroke="#000" stroke-width="1.3"/>
<line x1="360" y1="385.3" x2="364" y2="385.3" stroke="#000" stroke-width="1.3"/>
<line x1="360" y1="404" x2="364" y2="404" stroke="#000" stroke-width="1.3"/>
<line x1="360" y1="422.7" x2="364" y2="422.7" stroke="#000" stroke-width="1.3"/>
<line x1="360" y1="441.4" x2="364" y2="441.4" stroke="#000" stroke-width="1.3"/>
<line x1="360" y1="460.1" x2="364" y2="460.1" stroke="#000" stroke-width="1.3"/>
<line x1="360" y1="478.7" x2="364" y2="478.7" stroke="#000" stroke-width="1.3"/>
<line x1="360" y1="497.4" x2="364" y2="497.4" stroke="#000" stroke-width="1.3"/>
<line x1="360" y1="516.1" x2="364" y2="516.1" stroke="#000" stroke-width="1.3"/>
<line x1="360" y1="534.8" x2="364" y2="534.8" stroke="#000" stroke-width="1.3"/>
<line x1="360" y1="553.5" x2="364" y2="553.5" stroke="#000" stroke-width="1.3"/>
<polyline points="54,419.4 56.4,442.3 58.1,461.9 60.3,483.7 62.5,496.8 65.1,497.9 66.8,503.4 69.4,504.4 72.7,509.9 74.9,508.8 76.4,503.4 79.2,497.9 82.5,494.6 84.7,481.6 85.8,477.2 102.1,477.2 104.3,480.5 105,466.3 107.6,459.8 109.1,453.2 110.9,448.9 112.6,439 115.2,438 117.4,436.9 119.6,416.2 121.8,406.3 123.9,403.5 127.2,406.3 132,415.1 133.5,417.6 137.8,418.7 140.6,415.3 143.5,413.8 146.4,409.5 149.3,406.7 152.2,409.5 159.4,410.1 165.1,411 170.9,412.4 173.7,415.3 176.6,422.5 180.9,431.1 182.9,438.3 184.7,455.6 187.6,472.8 192.4,477.2 202.5,478 208.6,481 213,485.9 217.3,490.2 220.2,498.8 221.6,507.5 225.3,510.3 227.4,517.5 230.2,527.6 233.1,530.5 237.4,532.8 241.8,531.9 246.1,528.2 253.3,528.2 257.6,527.6 260.5,531.9 263.4,535.7 267.7,534.8 272,531.9 274.9,527.6 277.7,526.2 281.2,521.9 286.4,521 289.3,519 293.6,520.4 297.9,523.9 306.5,523.9 310.9,522.4 318.1,521.9 323.8,520.4 332.5,519.6 338.2,518.1 344,516.7 348.3,518.1 354.1,517 360.4,518.4" fill="none" stroke="#ED7D31" stroke-width="3.2" stroke-linejoin="round" stroke-linecap="round"/>
<text x="42.5" y="385.3" font-size="10.4" text-anchor="end" fill="#505050" dominant-baseline="central">130000</text>
<text x="42.5" y="413.3" font-size="10.4" text-anchor="end" fill="#505050" dominant-baseline="central">120000</text>
<text x="42.5" y="441.4" font-size="10.4" text-anchor="end" fill="#505050" dominant-baseline="central">110000</text>
<text x="42.5" y="469.4" font-size="10.4" text-anchor="end" fill="#505050" dominant-baseline="central">100000</text>
<text x="42.5" y="497.4" font-size="10.4" text-anchor="end" fill="#505050" dominant-baseline="central">90000</text>
<text x="42.5" y="525.5" font-size="10.4" text-anchor="end" fill="#505050" dominant-baseline="central">80000</text>
<text x="42.5" y="553.5" font-size="10.4" text-anchor="end" fill="#505050" dominant-baseline="central">70000</text>
<text x="371" y="385.3" font-size="10.4" text-anchor="start" fill="#505050" dominant-baseline="central">20000</text>
<text x="371" y="404" font-size="10.4" text-anchor="start" fill="#505050" dominant-baseline="central">15000</text>
<text x="371" y="422.7" font-size="10.4" text-anchor="start" fill="#505050" dominant-baseline="central">10000</text>
<text x="371" y="441.4" font-size="10.4" text-anchor="start" fill="#505050" dominant-baseline="central">5000</text>
<text x="371" y="460.1" font-size="10.4" text-anchor="start" fill="#505050" dominant-baseline="central">0</text>
<text x="371" y="478.7" font-size="10.4" text-anchor="start" fill="#505050" dominant-baseline="central">-5000</text>
<text x="371" y="497.4" font-size="10.4" text-anchor="start" fill="#505050" dominant-baseline="central">-10000</text>
<text x="371" y="516.1" font-size="10.4" text-anchor="start" fill="#505050" dominant-baseline="central">-15000</text>
<text x="371" y="534.8" font-size="10.4" text-anchor="start" fill="#505050" dominant-baseline="central">-20000</text>
<text x="371" y="553.5" font-size="10.4" text-anchor="start" fill="#505050" dominant-baseline="central">-25000</text>
<text x="54.7" y="561.6" font-size="11.2" text-anchor="end" fill="#505050" dominant-baseline="central" transform="rotate(-90 54.7 561.6)">12月1日</text>
<text x="69.6" y="561.6" font-size="11.2" text-anchor="end" fill="#505050" dominant-baseline="central" transform="rotate(-90 69.6 561.6)">12月22日</text>
<text x="84.5" y="561.6" font-size="11.2" text-anchor="end" fill="#505050" dominant-baseline="central" transform="rotate(-90 84.5 561.6)">1月15日</text>
<text x="99.4" y="561.6" font-size="11.2" text-anchor="end" fill="#505050" dominant-baseline="central" transform="rotate(-90 99.4 561.6)">2月5日</text>
<text x="114.3" y="561.6" font-size="11.2" text-anchor="end" fill="#505050" dominant-baseline="central" transform="rotate(-90 114.3 561.6)">3月5日</text>
<text x="129.2" y="561.6" font-size="11.2" text-anchor="end" fill="#505050" dominant-baseline="central" transform="rotate(-90 129.2 561.6)">3月26日</text>
<text x="144.1" y="561.6" font-size="11.2" text-anchor="end" fill="#505050" dominant-baseline="central" transform="rotate(-90 144.1 561.6)">4月18日</text>
<text x="159" y="561.6" font-size="11.2" text-anchor="end" fill="#505050" dominant-baseline="central" transform="rotate(-90 159 561.6)">5月14日</text>
<text x="173.9" y="561.6" font-size="11.2" text-anchor="end" fill="#505050" dominant-baseline="central" transform="rotate(-90 173.9 561.6)">6月4日</text>
<text x="188.8" y="561.6" font-size="11.2" text-anchor="end" fill="#505050" dominant-baseline="central" transform="rotate(-90 188.8 561.6)">6月26日</text>
<text x="203.7" y="561.6" font-size="11.2" text-anchor="end" fill="#505050" dominant-baseline="central" transform="rotate(-90 203.7 561.6)">7月17日</text>
<text x="218.6" y="561.6" font-size="11.2" text-anchor="end" fill="#505050" dominant-baseline="central" transform="rotate(-90 218.6 561.6)">8月7日</text>
<text x="233.5" y="561.6" font-size="11.2" text-anchor="end" fill="#505050" dominant-baseline="central" transform="rotate(-90 233.5 561.6)">8月28日</text>
<text x="248.4" y="561.6" font-size="11.2" text-anchor="end" fill="#505050" dominant-baseline="central" transform="rotate(-90 248.4 561.6)">9月20日</text>
<text x="263.3" y="561.6" font-size="11.2" text-anchor="end" fill="#505050" dominant-baseline="central" transform="rotate(-90 263.3 561.6)">10月18日</text>
<text x="278.2" y="561.6" font-size="11.2" text-anchor="end" fill="#505050" dominant-baseline="central" transform="rotate(-90 278.2 561.6)">11月8日</text>
<text x="293.1" y="561.6" font-size="11.2" text-anchor="end" fill="#505050" dominant-baseline="central" transform="rotate(-90 293.1 561.6)">11月29日</text>
<text x="308" y="561.6" font-size="11.2" text-anchor="end" fill="#505050" dominant-baseline="central" transform="rotate(-90 308 561.6)">12月20日</text>
<text x="322.9" y="561.6" font-size="11.2" text-anchor="end" fill="#505050" dominant-baseline="central" transform="rotate(-90 322.9 561.6)">1月13日</text>
<text x="337.8" y="561.6" font-size="11.2" text-anchor="end" fill="#505050" dominant-baseline="central" transform="rotate(-90 337.8 561.6)">2月11日</text>
<text x="352.7" y="561.6" font-size="11.2" text-anchor="end" fill="#505050" dominant-baseline="central" transform="rotate(-90 352.7 561.6)">3月4日</text>
<text x="51.8" y="366.2" font-size="14.1" text-anchor="start" fill="#505050" dominant-baseline="central" textLength="307.2" lengthAdjust="spacingAndGlyphs">外购磷酸铁锂极片黑粉（Li：3.2%-4.2%）回收生产</text>
<text x="205.5" y="384.9" font-size="14.1" text-anchor="middle" fill="#505050" dominant-baseline="central">碳酸锂成本利润</text>
<text x="9.8" y="359.3" font-size="11.5" text-anchor="start" fill="#505050" dominant-baseline="central" textLength="26.5" lengthAdjust="spacing">元/吨</text>
<text x="374.3" y="361.2" font-size="11.5" text-anchor="start" fill="#505050" dominant-baseline="central" textLength="26.5" lengthAdjust="spacing">元/吨</text>
<text x="64" y="625" font-size="11.2" text-anchor="middle" fill="#505050" dominant-baseline="central">2023年</text>
<text x="194" y="625" font-size="11.2" text-anchor="middle" fill="#505050" dominant-baseline="central">2024年</text>
<text x="337" y="625" font-size="11.2" text-anchor="middle" fill="#505050" dominant-baseline="central">2025年</text>
<text x="136" y="622.3" font-size="11.2" text-anchor="start" fill="#505050" dominant-baseline="central">利润</text>
<text x="288.8" y="622.3" font-size="11.2" text-anchor="start" fill="#505050" dominant-baseline="central">成本</text>
<rect x="104.3" y="619.8" width="28.5" height="6.9" fill="#5B9BD5"/>
<line x1="256.2" y1="623.4" x2="286.3" y2="623.4" stroke="#ED7D31" stroke-width="3.2" stroke-linecap="round"/>
<line x1="455.2" y1="385.1" x2="773.8" y2="385.1" stroke="#D9D9D9" stroke-width="1"/>
<line x1="455.2" y1="409.1" x2="773.8" y2="409.1" stroke="#D9D9D9" stroke-width="1"/>
<line x1="455.2" y1="433.2" x2="773.8" y2="433.2" stroke="#D9D9D9" stroke-width="1"/>
<line x1="455.2" y1="457.2" x2="773.8" y2="457.2" stroke="#D9D9D9" stroke-width="1"/>
<line x1="455.2" y1="481.2" x2="773.8" y2="481.2" stroke="#D9D9D9" stroke-width="1"/>
<line x1="455.2" y1="505.2" x2="773.8" y2="505.2" stroke="#D9D9D9" stroke-width="1"/>
<line x1="455.2" y1="529.3" x2="773.8" y2="529.3" stroke="#D9D9D9" stroke-width="1"/>
<line x1="455.2" y1="553.3" x2="773.8" y2="553.3" stroke="#D9D9D9" stroke-width="1"/>
<polygon points="461,433.4 461,433.4 461.5,424 462.3,423 464.2,414.8 465.8,418.3 467.5,424.2 469.3,427.7 471.7,424.2 474.5,424.2 475.9,432.3 476.5,433.4 477.5,437 479.8,453.3 482.2,465 485.7,476.6 490.3,487.1 495,488.3 499.6,487.1 505.5,487.1 507.8,493 511.3,502.3 513.6,509.3 517.1,501.1 520.6,500 525.3,504.6 528.8,509.3 530,510 534.5,498.8 539,493.1 542.4,490.9 545.8,494.3 550.3,501 553.7,505.5 555.9,506.7 557.1,476.2 561.6,476.2 566.1,471.7 570.6,469.4 575.1,472.8 578.5,474 580.8,480.7 583,490.9 585.3,486.4 588.7,484.1 595.4,481.8 602.2,480.3 611.2,478.9 620.2,480.3 629.3,484.1 638.3,487.5 650,492 653.1,495.8 657.5,490.1 667.5,491.5 679,492.4 690.5,492.9 702,492.4 713.6,493.5 725.1,494.4 736.6,492.9 748.1,492.9 756.7,495.2 761,498.7 765.3,518.8 769.6,539 772.5,544.7 773.5,440 773.5,433.4" fill="url(#bluebars)"/>
<line x1="455.2" y1="553.3" x2="773.8" y2="553.3" stroke="#D9D9D9" stroke-width="1"/>
<line x1="455.5" y1="553.3" x2="455.5" y2="634" stroke="#D9D9D9" stroke-width="1"/>
<line x1="476.7" y1="553.3" x2="476.7" y2="634" stroke="#D9D9D9" stroke-width="1"/>
<line x1="726.5" y1="553.3" x2="726.5" y2="634" stroke="#D9D9D9" stroke-width="1"/>
<line x1="773.8" y1="553.3" x2="773.8" y2="634" stroke="#D9D9D9" stroke-width="1"/>
<line x1="455.2" y1="385.1" x2="455.2" y2="553.3" stroke="#000" stroke-width="1.3"/>
<line x1="451.2" y1="385.1" x2="455.2" y2="385.1" stroke="#000" stroke-width="1.3"/>
<line x1="451.2" y1="409.1" x2="455.2" y2="409.1" stroke="#000" stroke-width="1.3"/>
<line x1="451.2" y1="433.2" x2="455.2" y2="433.2" stroke="#000" stroke-width="1.3"/>
<line x1="451.2" y1="457.2" x2="455.2" y2="457.2" stroke="#000" stroke-width="1.3"/>
<line x1="451.2" y1="481.2" x2="455.2" y2="481.2" stroke="#000" stroke-width="1.3"/>
<line x1="451.2" y1="505.2" x2="455.2" y2="505.2" stroke="#000" stroke-width="1.3"/>
<line x1="451.2" y1="529.3" x2="455.2" y2="529.3" stroke="#000" stroke-width="1.3"/>
<line x1="451.2" y1="553.3" x2="455.2" y2="553.3" stroke="#000" stroke-width="1.3"/>
<line x1="773.8" y1="385.1" x2="773.8" y2="553.3" stroke="#000" stroke-width="1.3"/>
<line x1="773.8" y1="385.1" x2="777.8" y2="385.1" stroke="#000" stroke-width="1.3"/>
<line x1="773.8" y1="409.1" x2="777.8" y2="409.1" stroke="#000" stroke-width="1.3"/>
<line x1="773.8" y1="433.2" x2="777.8" y2="433.2" stroke="#000" stroke-width="1.3"/>
<line x1="773.8" y1="457.2" x2="777.8" y2="457.2" stroke="#000" stroke-width="1.3"/>
<line x1="773.8" y1="481.2" x2="777.8" y2="481.2" stroke="#000" stroke-width="1.3"/>
<line x1="773.8" y1="505.2" x2="777.8" y2="505.2" stroke="#000" stroke-width="1.3"/>
<line x1="773.8" y1="529.3" x2="777.8" y2="529.3" stroke="#000" stroke-width="1.3"/>
<line x1="773.8" y1="553.3" x2="777.8" y2="553.3" stroke="#000" stroke-width="1.3"/>
<polyline points="455.8,402.3 457.2,426.8 459.2,455.5 461.5,487.2 463.8,513.1 465.8,517.4 468.7,521.7 471.6,526 474.5,530.9 476.5,518.8 477.9,526 480.2,495.8 483.1,488.6 485.1,478.6 487.4,475.7 490.3,467 493.1,465.6 497.5,467.6 501.8,465.6 506.1,466.5 507,468.5 509,460.7 511.8,451.2 513.3,439.7 515.6,444 517.6,431.1 520.5,423.9 523.4,412.4 526.2,408.1 530,403.8 532,406.6 534,421 535.7,423.9 539.2,423.9 542,420.4 544.9,417.6 547.8,419.6 550.7,412.4 554.1,408.9 557,408.1 557.9,438.3 560.7,439.7 563.6,445.5 566.5,457 568.5,459 570.8,457 573.7,454.1 576.6,454.9 579.4,457 580.9,464.2 582.3,450.4 585.2,457 588.1,465.6 592.4,474.2 595.3,482.9 599.6,485.7 605.3,487.2 608.2,491.5 611.1,495.5 614.3,497.5 618.6,503 622.9,507.3 627.3,510.2 630.7,516 634.5,520.3 638.8,518.2 644,514.5 647.4,517.4 650.3,518.8 653.1,507.9 656,510.2 660.3,508.8 664.7,505.9 667.5,507.9 671.8,513.1 676.2,514.5 681.9,513.1 686.2,510.2 689.1,507.3 691.1,501 694.9,499.3 697.7,498.7 702,500.1 706.4,504.4 710.7,506.7 716.4,506.7 720.7,505.9 725.1,506.7 730.8,505 735.1,501.6 739.4,500.7 745.2,501.6 750.9,503 756.7,503 759.6,501.6 762.5,494.4 765.3,484.3 767.6,472.8 769.6,461.3 771.7,458.4 774,457.6" fill="none" stroke="#ED7D31" stroke-width="3.2" stroke-linejoin="round" stroke-linecap="round"/>
<text x="443.8" y="385.1" font-size="10.4" text-anchor="end" fill="#505050" dominant-baseline="central">150000</text>
<text x="443.8" y="409.1" font-size="10.4" text-anchor="end" fill="#505050" dominant-baseline="central">140000</text>
<text x="443.8" y="433.2" font-size="10.4" text-anchor="end" fill="#505050" dominant-baseline="central">130000</text>
<text x="443.8" y="457.2" font-size="10.4" text-anchor="end" fill="#505050" dominant-baseline="central">120000</text>
<text x="443.8" y="481.2" font-size="10.4" text-anchor="end" fill="#505050" dominant-baseline="central">110000</text>
<text x="443.8" y="505.2" font-size="10.4" text-anchor="end" fill="#505050" dominant-baseline="central">100000</text>
<text x="443.8" y="529.3" font-size="10.4" text-anchor="end" fill="#505050" dominant-baseline="central">90000</text>
<text x="443.8" y="553.3" font-size="10.4" text-anchor="end" fill="#505050" dominant-baseline="central">80000</text>
<text x="784" y="385.1" font-size="10.4" text-anchor="start" fill="#505050" dominant-baseline="central">20000</text>
<text x="784" y="409.1" font-size="10.4" text-anchor="start" fill="#505050" dominant-baseline="central">10000</text>
<text x="784" y="433.2" font-size="10.4" text-anchor="start" fill="#505050" dominant-baseline="central">0</text>
<text x="784" y="457.2" font-size="10.4" text-anchor="start" fill="#505050" dominant-baseline="central">-10000</text>
<text x="784" y="481.2" font-size="10.4" text-anchor="start" fill="#505050" dominant-baseline="central">-20000</text>
<text x="784" y="505.2" font-size="10.4" text-anchor="start" fill="#505050" dominant-baseline="central">-30000</text>
<text x="784" y="529.3" font-size="10.4" text-anchor="start" fill="#505050" dominant-baseline="central">-40000</text>
<text x="784" y="553.3" font-size="10.4" text-anchor="start" fill="#505050" dominant-baseline="central">-50000</text>
<text x="457.3" y="561.6" font-size="11.2" text-anchor="end" fill="#505050" dominant-baseline="central" transform="rotate(-90 457.3 561.6)">12月1日</text>
<text x="472.7" y="561.6" font-size="11.2" text-anchor="end" fill="#505050" dominant-baseline="central" transform="rotate(-90 472.7 561.6)">12月22日</text>
<text x="488.1" y="561.6" font-size="11.2" text-anchor="end" fill="#505050" dominant-baseline="central" transform="rotate(-90 488.1 561.6)">1月15日</text>
<text x="503.5" y="561.6" font-size="11.2" text-anchor="end" fill="#505050" dominant-baseline="central" transform="rotate(-90 503.5 561.6)">2月5日</text>
<text x="518.9" y="561.6" font-size="11.2" text-anchor="end" fill="#505050" dominant-baseline="central" transform="rotate(-90 518.9 561.6)">3月5日</text>
<text x="534.3" y="561.6" font-size="11.2" text-anchor="end" fill="#505050" dominant-baseline="central" transform="rotate(-90 534.3 561.6)">3月26日</text>
<text x="549.7" y="561.6" font-size="11.2" text-anchor="end" fill="#505050" dominant-baseline="central" transform="rotate(-90 549.7 561.6)">4月18日</text>
<text x="565.1" y="561.6" font-size="11.2" text-anchor="end" fill="#505050" dominant-baseline="central" transform="rotate(-90 565.1 561.6)">5月14日</text>
<text x="580.5" y="561.6" font-size="11.2" text-anchor="end" fill="#505050" dominant-baseline="central" transform="rotate(-90 580.5 561.6)">6月4日</text>
<text x="595.9" y="561.6" font-size="11.2" text-anchor="end" fill="#505050" dominant-baseline="central" transform="rotate(-90 595.9 561.6)">6月26日</text>
<text x="611.3" y="561.6" font-size="11.2" text-anchor="end" fill="#505050" dominant-baseline="central" transform="rotate(-90 611.3 561.6)">7月17日</text>
<text x="626.7" y="561.6" font-size="11.2" text-anchor="end" fill="#505050" dominant-baseline="central" transform="rotate(-90 626.7 561.6)">8月7日</text>
<text x="642.1" y="561.6" font-size="11.2" text-anchor="end" fill="#505050" dominant-baseline="central" transform="rotate(-90 642.1 561.6)">8月28日</text>
<text x="657.5" y="561.6" font-size="11.2" text-anchor="end" fill="#505050" dominant-baseline="central" transform="rotate(-90 657.5 561.6)">9月20日</text>
<text x="672.9" y="561.6" font-size="11.2" text-anchor="end" fill="#505050" dominant-baseline="central" transform="rotate(-90 672.9 561.6)">10月18日</text>
<text x="688.3" y="561.6" font-size="11.2" text-anchor="end" fill="#505050" dominant-baseline="central" transform="rotate(-90 688.3 561.6)">11月8日</text>
<text x="703.7" y="561.6" font-size="11.2" text-anchor="end" fill="#505050" dominant-baseline="central" transform="rotate(-90 703.7 561.6)">11月29日</text>
<text x="719.1" y="561.6" font-size="11.2" text-anchor="end" fill="#505050" dominant-baseline="central" transform="rotate(-90 719.1 561.6)">12月20日</text>
<text x="734.5" y="561.6" font-size="11.2" text-anchor="end" fill="#505050" dominant-baseline="central" transform="rotate(-90 734.5 561.6)">1月13日</text>
<text x="749.9" y="561.6" font-size="11.2" text-anchor="end" fill="#505050" dominant-baseline="central" transform="rotate(-90 749.9 561.6)">2月11日</text>
<text x="765.3" y="561.6" font-size="11.2" text-anchor="end" fill="#505050" dominant-baseline="central" transform="rotate(-90 765.3 561.6)">3月4日</text>
<text x="459.5" y="366.2" font-size="14.1" text-anchor="start" fill="#505050" dominant-baseline="central" textLength="308.5" lengthAdjust="spacingAndGlyphs">外购三元极片黑粉（Li：5.5%-6.5%）回收生产碳酸</text>
<text x="613" y="384.9" font-size="14.1" text-anchor="middle" fill="#505050" dominant-baseline="central">锂成本利润</text>
<text x="411.5" y="356.1" font-size="11.5" text-anchor="start" fill="#505050" dominant-baseline="central" textLength="26.5" lengthAdjust="spacing">元/吨</text>
<text x="787.5" y="363.5" font-size="11.5" text-anchor="start" fill="#505050" dominant-baseline="central" textLength="26.5" lengthAdjust="spacing">元/吨</text>
<text x="466.1" y="625.5" font-size="11.2" text-anchor="middle" fill="#505050" dominant-baseline="central">2023年</text>
<text x="601.3" y="625.5" font-size="11.2" text-anchor="middle" fill="#505050" dominant-baseline="central">2024年</text>
<text x="749.1" y="625.5" font-size="11.2" text-anchor="middle" fill="#505050" dominant-baseline="central">2025年</text>
<text x="541.9" y="627.2" font-size="11.2" text-anchor="start" fill="#505050" dominant-baseline="central">利润</text>
<text x="698.8" y="628" font-size="11.2" text-anchor="start" fill="#505050" dominant-baseline="central">成本</text>
<rect x="509.3" y="623" width="28.5" height="6.6" fill="#5B9BD5"/>
<line x1="666.2" y1="626.7" x2="696.3" y2="626.7" stroke="#ED7D31" stroke-width="3.2" stroke-linecap="round"/>
<line x1="871.7" y1="397.2" x2="1261" y2="397.2" stroke="#D9D9D9" stroke-width="1"/>
<line x1="871.7" y1="415.7" x2="1261" y2="415.7" stroke="#D9D9D9" stroke-width="1"/>
<line x1="871.7" y1="434.2" x2="1261" y2="434.2" stroke="#D9D9D9" stroke-width="1"/>
<line x1="871.7" y1="452.7" x2="1261" y2="452.7" stroke="#D9D9D9" stroke-width="1"/>
<line x1="871.7" y1="471.1" x2="1261" y2="471.1" stroke="#D9D9D9" stroke-width="1"/>
<line x1="871.7" y1="489.6" x2="1261" y2="489.6" stroke="#D9D9D9" stroke-width="1"/>
<line x1="871.7" y1="508.1" x2="1261" y2="508.1" stroke="#D9D9D9" stroke-width="1"/>
<line x1="871.7" y1="526.6" x2="1261" y2="526.6" stroke="#D9D9D9" stroke-width="1"/>
<polygon points="871.8,508.1 871.8,446.2 872.8,441.3 874,437.5 875.5,447.5 877.3,450 879.2,453.7 881,453.2 883.5,455.7 885.5,457.4 886.5,448.2 888.5,451.2 891,452.5 893.4,455.7 895.2,453.7 896.7,447.5 897.9,435 899.7,436.3 901.7,425.1 903.4,420.8 905.1,416.4 906.6,408.9 907.6,406.4 909.1,413.9 910.9,422.6 913.4,435 914.6,446.2 915.8,452.5 917.6,455 919.1,435 920.8,417.6 922,417.6 923.8,430.1 925.8,448.7 927.5,476.1 929,497.3 930.3,491.1 931,468.7 932,459.9 932.8,482.3 934,470.6 937,469.9 942,469.9 944,478.6 945.7,490.6 948.2,489.1 951.9,487.3 953.2,484.8 955,487.3 956.9,484.8 964.4,484.3 966.9,482.3 969.4,481.1 973.1,481.6 975.6,484.8 979.3,486.1 981.8,483.6 986.8,483.6 988.8,490.6 994.7,491 996.2,486.6 998.6,487.4 1001.7,485.5 1005.6,485.8 1008.7,492.5 1016.5,492.8 1019.6,494.4 1022.7,496.7 1025,495.2 1028.1,491.3 1031.2,491 1034.3,485.8 1036.7,484.3 1038.5,485.8 1041.3,493.6 1043.7,492.8 1047.5,493.5 1047.5,508.1" fill="url(#graybars)"/>
<polygon points="1048,508.1 1048,508.3 1058,508.5 1059.2,509.5 1072.3,511 1074,512.5 1076,509.5 1079.7,510 1081.6,512 1085.3,514.8 1090.9,515.7 1094.6,517.6 1104,518.5 1108.6,519 1113.3,515.7 1122.6,515.7 1132,513.9 1140,513.4 1161,513.1 1168,514.7 1198,514.7 1205,516.7 1245,516.7 1253,519 1261,519 1261,508.1" fill="url(#graybars)"/>
<line x1="871.7" y1="508.1" x2="1261" y2="508.1" stroke="#000" stroke-width="1.3" stroke-dasharray="2.8 1.8"/>
<line x1="871.7" y1="526.6" x2="1261" y2="526.6" stroke="#D9D9D9" stroke-width="1"/>
<line x1="871.7" y1="526.6" x2="871.7" y2="631" stroke="#000" stroke-width="1.2" stroke-dasharray="3 2"/>
<line x1="1048.2" y1="526.6" x2="1048.2" y2="631" stroke="#000" stroke-width="1.2" stroke-dasharray="3 2"/>
<line x1="1227" y1="526.6" x2="1227" y2="631" stroke="#000" stroke-width="1.2" stroke-dasharray="3 2"/>
<line x1="1261" y1="526.6" x2="1261" y2="631" stroke="#000" stroke-width="1.2" stroke-dasharray="3 2"/>
<line x1="871.7" y1="397.2" x2="871.7" y2="526.6" stroke="#000" stroke-width="1.3"/>
<line x1="867.7" y1="397.2" x2="871.7" y2="397.2" stroke="#000" stroke-width="1.3"/>
<line x1="867.7" y1="415.7" x2="871.7" y2="415.7" stroke="#000" stroke-width="1.3"/>
<line x1="867.7" y1="434.2" x2="871.7" y2="434.2" stroke="#000" stroke-width="1.3"/>
<line x1="867.7" y1="452.7" x2="871.7" y2="452.7" stroke="#000" stroke-width="1.3"/>
<line x1="867.7" y1="471.1" x2="871.7" y2="471.1" stroke="#000" stroke-width="1.3"/>
<line x1="867.7" y1="489.6" x2="871.7" y2="489.6" stroke="#000" stroke-width="1.3"/>
<line x1="867.7" y1="508.1" x2="871.7" y2="508.1" stroke="#000" stroke-width="1.3"/>
<line x1="867.7" y1="526.6" x2="871.7" y2="526.6" stroke="#000" stroke-width="1.3"/>
<polyline points="871.8,461.8 1261,461.8" fill="none" stroke="#FFC000" stroke-width="2.5" stroke-linejoin="round" stroke-linecap="round"/>
<polyline points="1047.6,492.1 1118.4,492.1 1119.5,493.4 1261,493.4" fill="none" stroke="#5B9BD5" stroke-width="1.7" stroke-linejoin="round" stroke-linecap="round"/>
<polyline points="871.8,444.7 872.8,439.8 874,436 875.5,446 877.3,448.5 879.2,452.2 881,451.7 883.5,454.2 885.5,455.9 886.5,446.7 888.5,449.7 891,451 893.4,454.2 895.2,452.2 896.7,446 897.9,433.5 899.7,434.8 901.7,423.6 903.4,419.3 905.1,414.9 906.6,407.4 907.6,404.9 909.1,412.4 910.9,421.1 913.4,433.5 914.6,444.7 915.8,451 917.6,453.5 919.1,433.5 920.8,416.1 922,416.1 923.8,428.6 925.8,447.2 927.5,474.6 929,495.8 930.3,489.6 931,467.2 932,458.4 932.8,480.8 934,469.1 937,468.4 942,468.4 944,477.1 945.7,489.1 948.2,487.6 951.9,485.8 953.2,483.3 955,485.8 956.9,483.3 964.4,482.8 966.9,480.8 969.4,479.6 973.1,480.1 975.6,483.3 979.3,484.6 981.8,482.1 986.8,482.1 988.8,489.1 994.7,489.5 996.2,485.1 998.6,485.9 1001.7,484 1005.6,484.3 1008.7,491 1016.5,491.3 1019.6,492.9 1022.7,495.2 1025,493.7 1028.1,489.8 1031.2,489.5 1034.3,484.3 1036.7,482.8 1038.5,484.3 1041.3,492.1 1043.7,491.3 1048.3,491.7 1050.7,494.1 1053,492.1 1058.5,492.9 1063.1,494.1 1069.4,494.5 1074,496 1076,489.8 1077.9,490.6 1080.2,496 1082.1,498.3 1086.5,499.1 1089.6,498.8 1091.9,499.9 1095.8,502.2 1100.5,503 1105.1,503.5 1108.3,503.5 1111.4,499.9 1114.5,499.9 1120.7,501 1126.9,499.9 1130,499.9 1136.2,498.7 1161.1,498.7 1167.3,500.4 1198.5,500.4 1204.7,502.2 1242,502.5 1246.7,503 1252.9,504.6 1261,504.4" fill="none" stroke="#ED7D31" stroke-width="1.8" stroke-linejoin="round" stroke-linecap="round"/>
<text x="858.6" y="397.2" font-size="11.8" text-anchor="end" fill="#505050" dominant-baseline="central">60000</text>
<text x="858.6" y="415.7" font-size="11.8" text-anchor="end" fill="#505050" dominant-baseline="central">50000</text>
<text x="858.6" y="434.2" font-size="11.8" text-anchor="end" fill="#505050" dominant-baseline="central">40000</text>
<text x="858.6" y="452.7" font-size="11.8" text-anchor="end" fill="#505050" dominant-baseline="central">30000</text>
<text x="858.6" y="471.1" font-size="11.8" text-anchor="end" fill="#505050" dominant-baseline="central">20000</text>
<text x="858.6" y="489.6" font-size="11.8" text-anchor="end" fill="#505050" dominant-baseline="central">10000</text>
<text x="858.6" y="508.1" font-size="11.8" text-anchor="end" fill="#505050" dominant-baseline="central">0</text>
<text x="858.6" y="526.6" font-size="11.8" text-anchor="end" fill="#505050" dominant-baseline="central">-10000</text>
<text x="872.7" y="536.7" font-size="12.6" text-anchor="end" fill="#505050" dominant-baseline="central" transform="rotate(-90 872.7 536.7)">1月3日</text>
<text x="889.4" y="536.7" font-size="12.6" text-anchor="end" fill="#505050" dominant-baseline="central" transform="rotate(-90 889.4 536.7)">2月10日</text>
<text x="906.1" y="536.7" font-size="12.6" text-anchor="end" fill="#505050" dominant-baseline="central" transform="rotate(-90 906.1 536.7)">3月15日</text>
<text x="922.8" y="536.7" font-size="12.6" text-anchor="end" fill="#505050" dominant-baseline="central" transform="rotate(-90 922.8 536.7)">4月18日</text>
<text x="939.5" y="536.7" font-size="12.6" text-anchor="end" fill="#505050" dominant-baseline="central" transform="rotate(-90 939.5 536.7)">5月24日</text>
<text x="956.2" y="536.7" font-size="12.6" text-anchor="end" fill="#505050" dominant-baseline="central" transform="rotate(-90 956.2 536.7)">6月28日</text>
<text x="972.9" y="536.7" font-size="12.6" text-anchor="end" fill="#505050" dominant-baseline="central" transform="rotate(-90 972.9 536.7)">7月31日</text>
<text x="989.6" y="536.7" font-size="12.6" text-anchor="end" fill="#505050" dominant-baseline="central" transform="rotate(-90 989.6 536.7)">8月31日</text>
<text x="1006.3" y="536.7" font-size="12.6" text-anchor="end" fill="#505050" dominant-baseline="central" transform="rotate(-90 1006.3 536.7)">10月11日</text>
<text x="1023" y="536.7" font-size="12.6" text-anchor="end" fill="#505050" dominant-baseline="central" transform="rotate(-90 1023 536.7)">11月13日</text>
<text x="1039.7" y="536.7" font-size="12.6" text-anchor="end" fill="#505050" dominant-baseline="central" transform="rotate(-90 1039.7 536.7)">12月14日</text>
<text x="1056.4" y="536.7" font-size="12.6" text-anchor="end" fill="#505050" dominant-baseline="central" transform="rotate(-90 1056.4 536.7)">1月16日</text>
<text x="1073.1" y="536.7" font-size="12.6" text-anchor="end" fill="#505050" dominant-baseline="central" transform="rotate(-90 1073.1 536.7)">2月26日</text>
<text x="1089.8" y="536.7" font-size="12.6" text-anchor="end" fill="#505050" dominant-baseline="central" transform="rotate(-90 1089.8 536.7)">3月28日</text>
<text x="1106.5" y="536.7" font-size="12.6" text-anchor="end" fill="#505050" dominant-baseline="central" transform="rotate(-90 1106.5 536.7)">5月6日</text>
<text x="1123.2" y="536.7" font-size="12.6" text-anchor="end" fill="#505050" dominant-baseline="central" transform="rotate(-90 1123.2 536.7)">6月6日</text>
<text x="1139.9" y="536.7" font-size="12.6" text-anchor="end" fill="#505050" dominant-baseline="central" transform="rotate(-90 1139.9 536.7)">7月9日</text>
<text x="1156.6" y="536.7" font-size="12.6" text-anchor="end" fill="#505050" dominant-baseline="central" transform="rotate(-90 1156.6 536.7)">8月9日</text>
<text x="1173.3" y="536.7" font-size="12.6" text-anchor="end" fill="#505050" dominant-baseline="central" transform="rotate(-90 1173.3 536.7)">9月10日</text>
<text x="1190" y="536.7" font-size="12.6" text-anchor="end" fill="#505050" dominant-baseline="central" transform="rotate(-90 1190 536.7)">10月22日</text>
<text x="1206.7" y="536.7" font-size="12.6" text-anchor="end" fill="#505050" dominant-baseline="central" transform="rotate(-90 1206.7 536.7)">11月22日</text>
<text x="1223.4" y="536.7" font-size="12.6" text-anchor="end" fill="#505050" dominant-baseline="central" transform="rotate(-90 1223.4 536.7)">12月24日</text>
<text x="1240.1" y="536.7" font-size="12.6" text-anchor="end" fill="#505050" dominant-baseline="central" transform="rotate(-90 1240.1 536.7)">1月27日</text>
<text x="1256.8" y="536.7" font-size="12.6" text-anchor="end" fill="#505050" dominant-baseline="central" transform="rotate(-90 1256.8 536.7)">3月6日</text>
<text x="943" y="371" font-size="20.2" text-anchor="start" fill="#505050" dominant-baseline="central" textLength="204" lengthAdjust="spacingAndGlyphs">工业级碳酸锂提纯利润</text>
<text x="825.7" y="365.9" font-size="12.8" text-anchor="start" fill="#505050" dominant-baseline="central" textLength="33" lengthAdjust="spacing">元/吨</text>
<text x="959.4" y="607" font-size="12.3" text-anchor="middle" fill="#505050" dominant-baseline="central">2023年</text>
<text x="1137.7" y="606.7" font-size="12.3" text-anchor="middle" fill="#505050" dominant-baseline="central">2024年</text>
<text x="1243.9" y="606.7" font-size="12.3" text-anchor="middle" fill="#505050" dominant-baseline="central">2025</text>
<text x="1243.9" y="622" font-size="12.3" text-anchor="middle" fill="#505050" dominant-baseline="central">年</text>
<text x="876.6" y="624.4" font-size="12.8" text-anchor="start" fill="#505050" dominant-baseline="central">提纯利润</text>
<text x="980.9" y="624.4" font-size="12.8" text-anchor="start" fill="#505050" dominant-baseline="central">提纯费</text>
<text x="1069.8" y="624.4" font-size="12.8" text-anchor="start" fill="#505050" dominant-baseline="central">价差</text>
<text x="1148.6" y="624.4" font-size="12.8" text-anchor="start" fill="#505050" dominant-baseline="central" textLength="104.3" lengthAdjust="spacingAndGlyphs">交易所品质升贴水</text>
<rect x="845" y="620.7" width="28" height="7.9" fill="#A5A5A5"/>
<line x1="949.4" y1="624.4" x2="977.2" y2="624.4" stroke="#5B9BD5" stroke-width="2" stroke-linecap="round"/>
<line x1="1039.7" y1="624.4" x2="1067.5" y2="624.4" stroke="#ED7D31" stroke-width="2" stroke-linecap="round"/>
<line x1="1118.5" y1="624.4" x2="1146.3" y2="624.4" stroke="#FFC000" stroke-width="2.5" stroke-linecap="round"/>
<g opacity="0.43" fill="#6A6A6A" stroke="#6A6A6A" stroke-width="1" font-style="italic"><text x="889" y="618" font-size="29" font-weight="900" textLength="88" lengthAdjust="spacingAndGlyphs">股期汇</text><text x="978" y="621" font-size="30" font-weight="bold" textLength="291" lengthAdjust="spacingAndGlyphs">(www.quqhui.cn)</text></g>
</svg></body></html>
